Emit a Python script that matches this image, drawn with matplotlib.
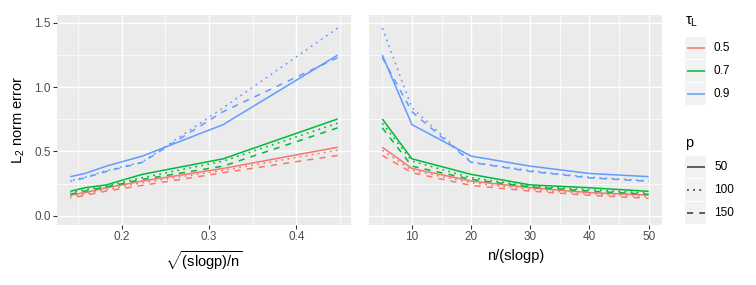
import numpy as np
import matplotlib
matplotlib.use("Agg")
import matplotlib.pyplot as plt
from matplotlib.patches import Rectangle
from matplotlib.lines import Line2D

plt.rcParams['font.family'] = ['Liberation Sans', 'DejaVu Sans']
plt.rcParams['mathtext.fontset'] = 'custom'
plt.rcParams['mathtext.rm'] = 'Liberation Sans'
plt.rcParams['mathtext.it'] = 'Liberation Sans:italic'
plt.rcParams['mathtext.bf'] = 'Liberation Sans:bold'

# ---- data ----
n_over_slogp = [5, 10, 20, 30, 40, 50]
tau_levels = ['0.5', '0.7', '0.9']
p_levels = ['50', '100', '150']

tau05_p50 = [0.533, 0.368, 0.270, 0.218, 0.180, 0.161]
tau05_p100 = [0.510, 0.353, 0.257, 0.205, 0.170, 0.150]
tau05_p150 = [0.469, 0.335, 0.236, 0.192, 0.159, 0.136]
tau07_p50 = [0.753, 0.443, 0.322, 0.240, 0.218, 0.190]
tau07_p100 = [0.720, 0.425, 0.296, 0.230, 0.203, 0.176]
tau07_p150 = [0.684, 0.386, 0.283, 0.224, 0.192, 0.167]
tau09_p50 = [1.250, 0.709, 0.464, 0.386, 0.329, 0.304]
tau09_p100 = [1.460, 0.840, 0.418, 0.350, 0.300, 0.272]
tau09_p150 = [1.230, 0.810, 0.415, 0.345, 0.295, 0.268]

series = {
    ('0.5', '50'): tau05_p50, ('0.5', '100'): tau05_p100, ('0.5', '150'): tau05_p150,
    ('0.7', '50'): tau07_p50, ('0.7', '100'): tau07_p100, ('0.7', '150'): tau07_p150,
    ('0.9', '50'): tau09_p50, ('0.9', '100'): tau09_p100, ('0.9', '150'): tau09_p150,
}

colors = {'0.5': '#F8766D', '0.7': '#00BA38', '0.9': '#619CFF'}
LW = 1.15
styles = {'50': dict(linestyle='-'),
          '100': dict(linestyle=(0, (1.2, 2.8))),
          '150': dict(linestyle=(0, (4, 4)))}

W, H = 756, 285
fig = plt.figure(figsize=(W / 96, H / 96), dpi=96)

def px_axes(x0, x1, y0, y1):
    return fig.add_axes([x0 / W, 1 - y1 / H, (x1 - x0) / W, (y1 - y0) / H])

axL = px_axes(57, 351, 15, 225)
axR = px_axes(369, 662, 15, 225)

x_left = np.sqrt(1.0 / np.array(n_over_slogp))
x_right = np.array(n_over_slogp)

def style_ax(ax, xmajor, xminor, xlim):
    ax.set_facecolor('#EBEBEB')
    for s in ax.spines.values():
        s.set_visible(False)
    ax.set_xlim(*xlim)
    ax.set_ylim(-0.072, 1.562)
    ax.set_xticks(xmajor)
    ax.set_xticks(xminor, minor=True)
    ax.set_yticks([0.0, 0.5, 1.0, 1.5])
    ax.set_yticks([0.25, 0.75, 1.25], minor=True)
    ax.grid(which='major', color='white', linewidth=1.07)
    ax.grid(which='minor', color='white', linewidth=0.53)
    ax.set_axisbelow(True)
    ax.tick_params(which='major', length=3.7 * 72 / 96, width=0.8, color='#333333',
                   labelsize=8.8, labelcolor='#4D4D4D', pad=2)
    ax.tick_params(which='minor', length=0)

for (t, p), vals in series.items():
    axL.plot(x_left, vals, color=colors[t], linewidth=LW, dash_capstyle='butt',
             solid_capstyle='butt', **styles[p])
    axR.plot(x_right, vals, color=colors[t], linewidth=LW, dash_capstyle='butt',
             solid_capstyle='butt', **styles[p])

xl = (x_left.min(), x_left.max())
padL = 0.05 * (xl[1] - xl[0])
style_ax(axL, [0.2, 0.3, 0.4], [0.15, 0.25, 0.35, 0.45], (xl[0] - padL, xl[1] + padL))
xr = (x_right.min(), x_right.max())
padR = 0.05 * (xr[1] - xr[0])
style_ax(axR, [10, 20, 30, 40, 50], [5, 15, 25, 35, 45], (xr[0] - padR, xr[1] + padR))
axL.set_yticklabels(['0.0', '0.5', '1.0', '1.5'])
axR.tick_params(axis='y', which='both', length=0, labelleft=False)

axL.set_xlabel(r'$\sqrt{\mathrm{(slogp)/n}}$', fontsize=11, labelpad=4)
axR.set_xlabel('n/(slogp)', fontsize=11, labelpad=4)
axL.set_ylabel(r'L$_2$ norm error', fontsize=11, labelpad=5)

# ---- legend (manual, ggplot-like) ----
leg = fig.add_axes([0, 0, 1, 1], zorder=5)
leg.set_xlim(0, W)
leg.set_ylim(H, 0)
leg.axis('off')

kx0, kw, kh = 685, 21, 22
leg.text(685, 22, 'τ$_\\mathrm{L}$', fontsize=11, va='center', ha='left')
for i, t in enumerate(tau_levels):
    y0 = 37 + i * 23
    leg.add_patch(Rectangle((kx0, y0), kw, kh, facecolor='#F2F2F2', edgecolor='none'))
    leg.add_line(Line2D([kx0 + 1.5, kx0 + kw - 1.5], [y0 + kh / 2] * 2, color=colors[t],
                        linewidth=LW, solid_capstyle='butt'))
    leg.text(714, y0 + kh / 2, t, fontsize=8.8, va='center', ha='left')

leg.text(685, 143, 'p', fontsize=11, va='center', ha='left')
for i, p in enumerate(p_levels):
    y0 = 156 + i * 23
    leg.add_patch(Rectangle((kx0, y0), kw, kh, facecolor='#F2F2F2', edgecolor='none'))
    leg.add_line(Line2D([kx0 + 1.5, kx0 + kw - 1.5], [y0 + kh / 2] * 2, color='#333333',
                        linewidth=LW, dash_capstyle='butt', solid_capstyle='butt', **styles[p]))
    leg.text(714, y0 + kh / 2, p, fontsize=8.8, va='center', ha='left')

fig.savefig('out.png', dpi=96, facecolor='white')
